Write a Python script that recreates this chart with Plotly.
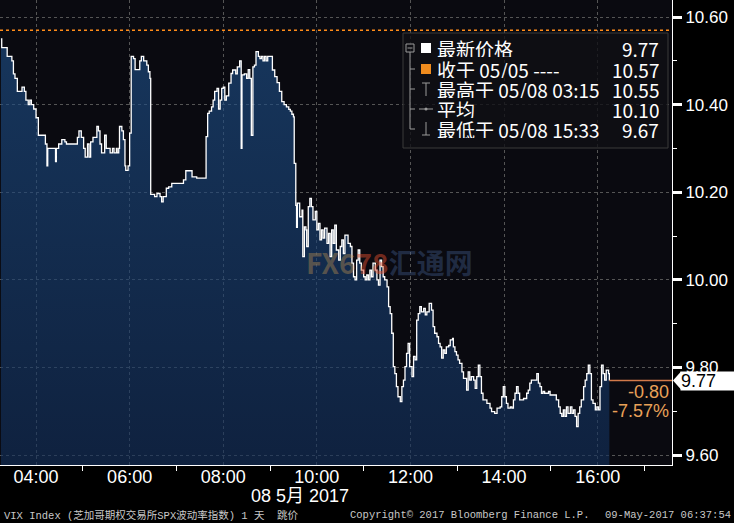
import plotly.graph_objects as go

# ---------------- data ----------------
trade_date = "2017-05-08"
times = [
    "03:15","03:16","03:23","03:29","03:31","03:33","03:36","03:39","03:42","03:45",
    "03:47","03:50","03:52","03:54","03:57","04:00","04:03","04:12","04:14","04:15",
    "04:25","04:26","04:29","04:33","04:37","04:39","04:53","04:55","04:58","05:01",
    "05:03","05:06","05:08","05:10","05:13","05:18","05:20","05:22","05:24","05:28",
    "05:30","05:35","05:38","05:40","05:43","05:44","05:46","05:47","05:50","05:52",
    "05:54","05:55","05:58","06:00","06:02","06:05","06:07","06:13","06:15","06:18",
    "06:22","06:24","06:26","06:27","06:32","06:35","06:39","06:41","06:43","06:47",
    "06:50","06:54","07:09","07:12","07:20","07:26","07:38","07:40","07:42","07:45",
    "07:47","07:49","07:52","07:54","07:56","07:58","08:00","08:02","08:04","08:07",
    "08:10","08:12","08:16","08:18","08:21","08:23","08:24","08:27","08:30","08:32",
    "08:34","08:36","08:38","08:40","08:42","08:45","08:47","08:49","08:51","08:53",
    "08:55","08:57","09:03","09:06","09:09","09:12","09:15","09:18","09:21","09:24",
    "09:26","09:28","09:30","09:31","09:33","09:34","09:35","09:38","09:41","09:42",
    "09:44","09:46","09:47","09:49","09:51","09:53","09:55","09:58","10:00","10:02",
    "10:04","10:06","10:08","10:10","10:13","10:15","10:17","10:19","10:21","10:23",
    "10:25","10:28","10:30","10:32","10:34","10:36","10:40","10:43","10:45","10:47",
    "10:49","10:51","10:53","10:55","10:57","11:00","11:02","11:04","11:06","11:08",
    "11:10","11:12","11:15","11:17","11:19","11:21","11:23","11:25","11:27","11:30",
    "11:32","11:34","11:36","11:38","11:40","11:42","11:44","11:47","11:49","11:51",
    "11:53","11:55","11:57","11:59","12:02","12:04","12:06","12:08","12:10","12:12",
    "12:14","12:17","12:19","12:21","12:24","12:27","12:29","12:31","12:34","12:36",
    "12:38","12:40","12:42","12:44","12:46","12:49","12:51","12:54","12:55","12:57",
    "12:59","13:01","13:03","13:06","13:08","13:12","13:14","13:16","13:18","13:21",
    "13:23","13:25","13:27","13:29","13:31","13:33","13:38","13:42","13:44","13:48",
    "13:51","13:55","13:57","13:59","14:01","14:03","14:05","14:08","14:10","14:12",
    "14:14","14:16","14:18","14:20","14:25","14:29","14:31","14:33","14:35","14:42",
    "14:44","14:46","14:48","14:50","14:52","14:57","14:59","15:07","15:10","15:12",
    "15:14","15:16","15:18","15:20","15:22","15:25","15:27","15:29","15:31","15:33",
    "15:35","15:37","15:39","15:42","15:44","15:46","15:48","15:50","15:52","15:54",
    "15:57","15:59","16:01","16:03","16:05","16:07","16:09","16:11","16:14","16:15",
]
vix = [
    10.55,10.53,10.51,10.50,10.47,10.46,10.43,10.43,10.44,10.43,
    10.41,10.40,10.41,10.40,10.39,10.37,10.33,10.31,10.26,10.30,
    10.27,10.30,10.31,10.32,10.315,10.31,10.325,10.34,10.325,10.30,
    10.28,10.31,10.28,10.315,10.325,10.35,10.34,10.31,10.29,10.33,
    10.30,10.29,10.30,10.29,10.30,10.29,10.30,10.35,10.34,10.32,
    10.26,10.25,10.26,10.335,10.51,10.505,10.48,10.50,10.51,10.50,
    10.49,10.475,10.46,10.195,10.19,10.197,10.19,10.178,10.19,10.209,
    10.212,10.22,10.228,10.249,10.235,10.232,10.327,10.38,10.385,10.395,
    10.41,10.43,10.437,10.39,10.41,10.437,10.44,10.41,10.42,10.449,
    10.471,10.479,10.47,10.486,10.50,10.30,10.468,10.47,10.46,10.48,
    10.46,10.33,10.486,10.49,10.521,10.51,10.505,10.51,10.50,10.51,
    10.50,10.51,10.479,10.464,10.45,10.43,10.407,10.40,10.395,10.389,
    10.385,10.378,10.372,10.266,10.17,10.12,10.175,10.144,10.159,10.053,
    10.121,10.114,10.076,10.167,10.186,10.167,10.137,10.156,10.114,10.129,
    10.091,10.114,10.095,10.118,10.083,10.106,10.053,10.114,10.083,10.125,
    10.068,10.045,10.076,10.091,10.060,10.102,10.083,10.076,10.038,10.007,
    10.0,10.045,10.068,10.038,10.022,10.007,10.0,10.011,10.0,10.022,
    10.007,10.038,10.022,10.0,9.988,10.045,10.030,10.007,10.0,9.984,
    9.939,9.923,9.878,9.802,9.786,9.756,9.733,9.722,9.756,9.771,
    9.802,9.832,9.855,9.802,9.779,9.825,9.817,9.908,9.923,9.939,
    9.927,9.935,9.920,9.927,9.946,9.931,9.893,9.878,9.870,9.855,
    9.847,9.821,9.840,9.832,9.847,9.850,9.863,9.866,9.847,9.836,
    9.828,9.817,9.809,9.790,9.775,9.748,9.790,9.771,9.779,9.771,
    9.752,9.779,9.805,9.779,9.741,9.726,9.718,9.707,9.699,9.695,
    9.707,9.710,9.733,9.756,9.733,9.718,9.707,9.710,9.707,9.726,
    9.741,9.756,9.741,9.726,9.729,9.741,9.748,9.764,9.771,9.786,
    9.764,9.756,9.741,9.745,9.741,9.745,9.737,9.726,9.710,9.695,
    9.688,9.703,9.688,9.710,9.695,9.710,9.695,9.703,9.688,9.665,
    9.695,9.710,9.726,9.756,9.771,9.786,9.805,9.786,9.726,9.718,
    9.703,9.710,9.703,9.756,9.805,9.786,9.771,9.794,9.786,9.77,
]

prev_close = 10.57
last_price = 9.77
net_change = "-0.80"
pct_change = "-7.57%"
legend_labels = ["最新价格", "收于 05/05 ----", "最高于 05/08 03:15", "平均", "最低于 05/08 15:33"]
legend_values = ["9.77", "10.57", "10.55", "10.10", "9.67"]
y_ticks = [9.60, 9.80, 10.00, 10.20, 10.40, 10.60]
x_range = ["2017-05-08 03:13:48", "2017-05-08 17:35:18"]
y_range = [9.5772, 10.6388]
date_label = "08 5月 2017"
footer_left = "VIX Index (芝加哥期权交易所SPX波动率指数) 1 天  跳价"
footer_mid = "Copyright© 2017 Bloomberg Finance L.P."
footer_right = "09-May-2017 06:37:54"

xs = [f"{trade_date} {t}" for t in times]

# ---------------- layout helpers ----------------
W, H = 734, 523
ML, MR, MT, MB = 0, 62, 0, 58
PW, PH = W - ML - MR, H - MT - MB


def px(x):
    return (x - ML) / PW


def py(y):
    return 1 - (y - MT) / PH


y_per_px = (y_range[1] - y_range[0]) / PH

CJK = "Noto Sans CJK SC"
SANS = "Liberation Sans"
MONO = "Liberation Mono, Noto Sans CJK SC"
GRID = "#555555"
ORANGE = "#e9a158"

fig = go.Figure()
fig.add_trace(go.Scatter(
    x=xs, y=vix, mode="lines",
    line=dict(color="white", width=1.3, shape="hv"),
    fill="tozeroy",
    fillgradient=dict(type="vertical",
                      colorscale=[[0, "rgba(18,48,92,0.62)"], [1, "rgba(30,80,138,0.62)"]],
                      start=9.58, stop=10.55),
    hoverinfo="skip", showlegend=False,
))

shapes = []
shapes.append(dict(type="line", xref="paper", yref="y", x0=0, x1=1, y0=prev_close, y1=prev_close,
                   line=dict(color="#ff8c1a", width=1.5, dash="dot"), layer="above"))
shapes.append(dict(type="line", xref="x", yref="y", x0=xs[-1], x1=x_range[1], y0=last_price, y1=last_price,
                   line=dict(color="#d27a4a", width=1.5), layer="above"))
# last-price pointer triangle (left of the value box)
dy = 9 * y_per_px
shapes.append(dict(type="path", xref="paper", yref="y",
                   path=f"M {px(673)},{last_price} L {px(681)},{last_price + dy} L {px(681)},{last_price - dy} Z",
                   fillcolor="white", line=dict(width=0), layer="above"))
shapes.append(dict(type="rect", xref="paper", yref="paper", x0=px(403), x1=px(668), y0=py(148), y1=py(33),
                   fillcolor="rgba(16,16,20,0.78)", line=dict(color="#3a3a3a", width=1), layer="above"))
row_y = [48, 69, 89, 109, 129]
TREE = "#9a9a9a"
shapes.append(dict(type="rect", xref="paper", yref="paper", x0=px(406), x1=px(414), y0=py(52), y1=py(44),
                   line=dict(color=TREE, width=1), fillcolor="rgba(0,0,0,0)", layer="above"))
shapes.append(dict(type="line", xref="paper", yref="paper", x0=px(407.5), x1=px(412.5), y0=py(48), y1=py(48),
                   line=dict(color=TREE, width=1), layer="above"))
shapes.append(dict(type="line", xref="paper", yref="paper", x0=px(410), x1=px(410), y0=py(52), y1=py(row_y[-1]),
                   line=dict(color=TREE, width=1), layer="above"))
for ry in row_y[1:]:
    shapes.append(dict(type="line", xref="paper", yref="paper", x0=px(410), x1=px(415), y0=py(ry), y1=py(ry),
                       line=dict(color=TREE, width=1), layer="above"))
shapes.append(dict(type="rect", xref="paper", yref="paper", x0=px(421), x1=px(431), y0=py(53), y1=py(43),
                   fillcolor="white", line=dict(width=0), layer="above"))
shapes.append(dict(type="rect", xref="paper", yref="paper", x0=px(421), x1=px(431), y0=py(74), y1=py(64),
                   fillcolor="#f08c1e", line=dict(width=0), layer="above"))
shapes.append(dict(type="line", xref="paper", yref="paper", x0=px(422), x1=px(430), y0=py(83), y1=py(83),
                   line=dict(color=TREE, width=1), layer="above"))
shapes.append(dict(type="line", xref="paper", yref="paper", x0=px(426), x1=px(426), y0=py(83), y1=py(96),
                   line=dict(color=TREE, width=1), layer="above"))
shapes.append(dict(type="line", xref="paper", yref="paper", x0=px(419), x1=px(433), y0=py(109), y1=py(109),
                   line=dict(color=TREE, width=1), layer="above"))
shapes.append(dict(type="circle", xref="paper", yref="paper", x0=px(424.5), x1=px(427.5), y0=py(110.5), y1=py(107.5),
                   fillcolor=TREE, line=dict(width=0), layer="above"))
shapes.append(dict(type="line", xref="paper", yref="paper", x0=px(426), x1=px(426), y0=py(122), y1=py(135),
                   line=dict(color=TREE, width=1), layer="above"))
shapes.append(dict(type="line", xref="paper", yref="paper", x0=px(422), x1=px(430), y0=py(135), y1=py(135),
                   line=dict(color=TREE, width=1), layer="above"))

ann = []
for ry, lab, val in zip(row_y, legend_labels, legend_values):
    ann.append(dict(xref="paper", yref="paper", x=px(435), y=py(ry), text=lab, showarrow=False,
                    xanchor="left", yanchor="middle", height=18, valign="middle",
                    font=dict(family=CJK, size=19, color="white")))
    ann.append(dict(xref="paper", yref="paper", x=px(661), y=py(ry), text=val, showarrow=False,
                    xanchor="right", yanchor="middle", height=18, valign="middle",
                    font=dict(family=CJK, size=19, color="white")))

ann.append(dict(xref="paper", yref="y", x=px(671), y=last_price, yshift=-11, text=net_change, showarrow=False,
                xanchor="right", yanchor="middle", height=18,
                font=dict(family=SANS, size=18, color=ORANGE)))
ann.append(dict(xref="paper", yref="y", x=px(671), y=last_price, yshift=-30, text=pct_change, showarrow=False,
                xanchor="right", yanchor="middle", height=18,
                font=dict(family=SANS, size=18, color=ORANGE)))
ann.append(dict(xref="paper", yref="y", x=px(680), y=last_price, text=f"{last_price:.2f}", showarrow=False,
                xanchor="left", yanchor="middle", width=54, height=18, align="left", bgcolor="white",
                borderpad=0, font=dict(family=SANS, size=18, color="black")))
ann.append(dict(xref="paper", yref="paper", x=px(300), y=py(496), text=date_label, showarrow=False,
                xanchor="center", yanchor="middle", height=18,
                font=dict(family=SANS + ", " + CJK, size=18, color="white")))
ann.append(dict(xref="paper", yref="paper", x=px(2), y=py(515), text=footer_left, showarrow=False,
                xanchor="left", yanchor="middle", font=dict(family=MONO, size=10.5, color="#c8c8c8")))
ann.append(dict(xref="paper", yref="paper", x=px(348), y=py(515), text=footer_mid, showarrow=False,
                xanchor="left", yanchor="middle", font=dict(family=MONO, size=10.5, color="#c8c8c8")))
ann.append(dict(xref="paper", yref="paper", x=px(733), y=py(515), text=footer_right, showarrow=False,
                xanchor="right", yanchor="middle", font=dict(family=MONO, size=10.5, color="#c8c8c8")))
ann.append(dict(xref="paper", yref="paper", x=px(389), y=py(262),
                text="<b><span style='color:rgba(200,150,80,0.38)'>FX6</span>"
                     "<span style='color:rgba(215,75,45,0.5)'>78</span>"
                     "<span style='color:rgba(70,100,150,0.38)'>汇通网</span></b>",
                showarrow=False, xanchor="center", yanchor="middle", font=dict(family=CJK, size=28)))

fig.update_layout(
    width=W, height=H, autosize=False,
    margin=dict(l=ML, r=MR, t=MT, b=MB, pad=0),
    paper_bgcolor="black", plot_bgcolor="#0a0a10",
    showlegend=False,
    shapes=shapes, annotations=ann,
    xaxis=dict(
        type="date", range=x_range,
        tick0=f"{trade_date} 04:00", dtick=2 * 3600000, tickformat="%H:%M",
        ticks="", ticklen=0, ticklabelstandoff=-5,
        showgrid=True, gridcolor=GRID, griddash="dot", gridwidth=1,
        showline=True, linecolor="white", linewidth=1,
        tickfont=dict(family=SANS, size=18, color="white"),
        minor=dict(ticks="outside", tick0=f"{trade_date} 05:00", dtick=2 * 3600000,
                   ticklen=5, tickcolor="white", tickwidth=1, showgrid=False),
        zeroline=False, fixedrange=True,
    ),
    yaxis=dict(
        side="right", range=y_range, tickvals=y_ticks, tickformat=".2f",
        ticks="outside", ticklen=9, tickwidth=3, tickcolor="white",
        showgrid=True, gridcolor=GRID, griddash="dot", gridwidth=1,
        showline=True, linecolor="white", linewidth=1,
        tickfont=dict(family=SANS, size=17, color="white"),
        minor=dict(ticks="outside", dtick=0.1, tick0=9.6, ticklen=4, tickcolor="white", tickwidth=1, showgrid=False),
        zeroline=False, fixedrange=True,
    ),
)

fig.write_html("out.html", config={"displayModeBar": False},
               post_script="document.body.style.margin='0';document.body.style.background='black';")
